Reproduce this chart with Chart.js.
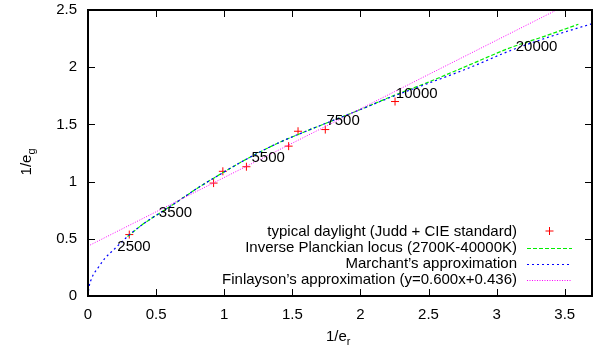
<!DOCTYPE html>
<html>
<head>
<meta charset="utf-8">
<script src="https://cdn.jsdelivr.net/npm/chart.js@4/dist/chart.umd.min.js"></script>
<style>
  body { margin: 0; background: #fff; }
  #wrap { position: relative; width: 606px; height: 354px; }
  #box { position: absolute; border: 2px solid #000; box-sizing: border-box; }
</style>
</head>
<body>
<div id="wrap">
<canvas id="chart" width="606" height="354"></canvas>
<div id="box"></div>
</div>
<script>
// daylight measurements (1/e_r, 1/e_g)
const daylightX = [0.303, 0.922, 0.99, 1.163, 1.473, 1.542, 1.742, 2.254];
const daylightY = [0.537, 0.987, 1.09, 1.13, 1.31, 1.44, 1.455, 1.70];

// inverse Planckian locus
const planckX = [0.29, 0.40, 0.52, 0.65, 0.80, 1.00, 1.20, 1.41, 1.60, 1.80, 2.00, 2.24, 2.50, 2.80, 3.10, 3.35, 3.60];
const planckY = [0.52, 0.625, 0.72, 0.82, 0.94, 1.085, 1.22, 1.345, 1.44, 1.535, 1.63, 1.75, 1.87, 2.02, 2.17, 2.27, 2.375];

// Marchant's approximation
const marchantX = [0.0, 0.005, 0.027, 0.076, 0.125, 0.198, 0.29, 0.40, 0.52, 0.65, 0.80, 1.00, 1.20, 1.41, 1.60, 1.80, 2.00, 2.24, 2.50, 2.80, 3.10, 3.40, 3.70];
const marchantY = [0.0, 0.06, 0.154, 0.25, 0.33, 0.415, 0.52, 0.625, 0.72, 0.82, 0.94, 1.085, 1.22, 1.345, 1.44, 1.535, 1.63, 1.745, 1.86, 1.995, 2.145, 2.27, 2.38];

// Finlayson's approximation y = 0.600x + 0.436
const finlaysonX = [0, 3.44];
const finlaysonY = [0.436, 2.50];

// colour temperature annotations
const tempLabels = ['2500', '3500', '5500', '7500', '10000', '20000'];
const tempX = [0.215, 0.52, 1.20, 1.75, 2.26, 3.14];
const tempY = [0.43, 0.73, 1.21, 1.53, 1.77, 2.18];

const xTicks = [0, 0.5, 1, 1.5, 2, 2.5, 3, 3.5];
const yTicks = [0, 0.5, 1, 1.5, 2, 2.5];

const legendLabels = [
    'typical daylight (Judd + CIE standard)',
    'Inverse Planckian locus (2700K-40000K)',
    'Marchant\u2019s approximation',
    'Finlayson\u2019s approximation (y=0.600x+0.436)'
];

const FONT = '"Liberation Sans", Arial, sans-serif';

function toPoints(xs, ys) {
    return xs.map((v, i) => ({ x: v, y: ys[i] }));
}

// annotations, axis titles, legend and ticks (gnuplot style)
const gnuplotLook = {
    id: 'gnuplotLook',
    afterDraw(chart) {
        const { ctx, chartArea: a, scales: { x, y } } = chart;
        ctx.save();
        ctx.setLineDash([]);

        // temperature labels
        ctx.fillStyle = '#000';
        ctx.font = '15px ' + FONT;
        ctx.textAlign = 'left';
        ctx.textBaseline = 'middle';
        tempLabels.forEach((t, i) => {
            ctx.fillText(t, x.getPixelForValue(tempX[i]), y.getPixelForValue(tempY[i]));
        });

        // legend, text right aligned, sample to the right
        const textRight = a.right - 75;
        const sx0 = a.right - 65, sx1 = a.right - 20;
        const rowY = [a.bottom - 64, a.bottom - 48, a.bottom - 32, a.bottom - 16];
        ctx.textAlign = 'right';
        legendLabels.forEach((t, i) => {
            ctx.fillText(t, textRight, rowY[i]);
        });
        const ds = chart.data.datasets;
        const cx = (sx0 + sx1) / 2, cy = rowY[0] - 1;
        ctx.lineWidth = 1;
        ctx.strokeStyle = ds[0].borderColor;
        ctx.beginPath();
        ctx.moveTo(cx - 4, cy); ctx.lineTo(cx + 4, cy);
        ctx.moveTo(cx, cy - 4); ctx.lineTo(cx, cy + 4);
        ctx.stroke();
        for (let i = 1; i < 4; i++) {
            ctx.strokeStyle = ds[i].borderColor;
            ctx.setLineDash(ds[i].borderDash);
            ctx.beginPath();
            ctx.moveTo(sx0, rowY[i] + 0.5);
            ctx.lineTo(sx1, rowY[i] + 0.5);
            ctx.stroke();
        }
        ctx.setLineDash([]);

        // inward, mirrored ticks
        ctx.strokeStyle = '#000';
        ctx.lineWidth = 1;
        ctx.beginPath();
        xTicks.forEach(v => {
            const px = Math.round(x.getPixelForValue(v)) + 0.5;
            ctx.moveTo(px, a.bottom); ctx.lineTo(px, a.bottom - 7);
            ctx.moveTo(px, a.top); ctx.lineTo(px, a.top + 7);
        });
        yTicks.forEach(v => {
            const py = Math.round(y.getPixelForValue(v)) + 0.5;
            ctx.moveTo(a.left, py); ctx.lineTo(a.left + 7, py);
            ctx.moveTo(a.right, py); ctx.lineTo(a.right - 7, py);
        });
        ctx.stroke();

        // axis titles with subscripts
        ctx.fillStyle = '#000';
        ctx.textAlign = 'left';
        ctx.textBaseline = 'alphabetic';
        ctx.font = '15px ' + FONT;
        const t = '1/e';
        const tw = ctx.measureText(t).width;
        const xl = (a.left + a.right) / 2 - 14;
        ctx.fillText(t, xl, 341);
        ctx.font = '11px ' + FONT;
        ctx.fillText('r', xl + tw, 345);

        ctx.translate(31, (a.top + a.bottom) / 2 + 8);
        ctx.rotate(-Math.PI / 2);
        ctx.font = '15px ' + FONT;
        ctx.fillText(t, -tw / 2 - 4, 0);
        ctx.font = '11px ' + FONT;
        ctx.fillText('g', tw / 2 - 4, 4);
        ctx.restore();

        // frame box over the plot area
        const box = document.getElementById('box');
        box.style.left = (a.left - 1) + 'px';
        box.style.top = (a.top - 1) + 'px';
        box.style.width = (a.right - a.left + 2) + 'px';
        box.style.height = (a.bottom - a.top + 2) + 'px';
    }
};

const config = {
    type: 'scatter',
    data: {
        datasets: [
            {
                label: legendLabels[0],
                data: toPoints(daylightX, daylightY),
                pointStyle: 'cross',
                pointRadius: 4,
                borderColor: '#ff0000',
                backgroundColor: '#ff0000',
                borderWidth: 1,
                showLine: false,
                order: 3
            },
            {
                label: legendLabels[1],
                data: toPoints(planckX, planckY),
                showLine: true,
                pointRadius: 0,
                borderColor: '#00ee00',
                borderWidth: 1.2,
                borderDash: [4, 2],
                cubicInterpolationMode: 'monotone',
                order: 2
            },
            {
                label: legendLabels[2],
                data: toPoints(marchantX, marchantY),
                showLine: true,
                pointRadius: 0,
                borderColor: '#0000ff',
                borderWidth: 1.2,
                borderDash: [2, 3],
                cubicInterpolationMode: 'monotone',
                order: 1
            },
            {
                label: legendLabels[3],
                data: toPoints(finlaysonX, finlaysonY),
                showLine: true,
                pointRadius: 0,
                borderColor: '#ff00ff',
                borderWidth: 1,
                borderDash: [1, 1.5],
                order: 0
            }
        ]
    },
    options: {
        responsive: false,
        animation: false,
        devicePixelRatio: 1,
        layout: { padding: { top: 10, right: 14, left: 0, bottom: 0 } },
        plugins: {
            legend: { display: false },
            tooltip: { enabled: false }
        },
        scales: {
            x: {
                type: 'linear',
                min: 0,
                max: 3.7,
                grid: { display: false, drawTicks: false },
                border: { display: true, color: '#000', width: 2 },
                afterBuildTicks: s => { s.ticks = xTicks.map(v => ({ value: v })); },
                afterFit: s => { s.height = 58; s.paddingLeft = 0; s.paddingRight = 0; },
                ticks: {
                    color: '#000',
                    padding: 10,
                    font: { family: FONT, size: 15 },
                    callback: v => String(v)
                }
            },
            y: {
                type: 'linear',
                min: 0,
                max: 2.5,
                grid: { display: false, drawTicks: false },
                border: { display: true, color: '#000', width: 2 },
                afterBuildTicks: s => { s.ticks = yTicks.map(v => ({ value: v })); },
                afterFit: s => { s.width = 88; s.paddingTop = 0; s.paddingBottom = 0; },
                ticks: {
                    color: '#000',
                    padding: 11,
                    font: { family: FONT, size: 15 },
                    callback: v => String(v)
                }
            }
        }
    },
    plugins: [gnuplotLook]
};

const ctx = document.getElementById('chart').getContext('2d');
let chart = new Chart(ctx, config);
</script>
</body>
</html>
